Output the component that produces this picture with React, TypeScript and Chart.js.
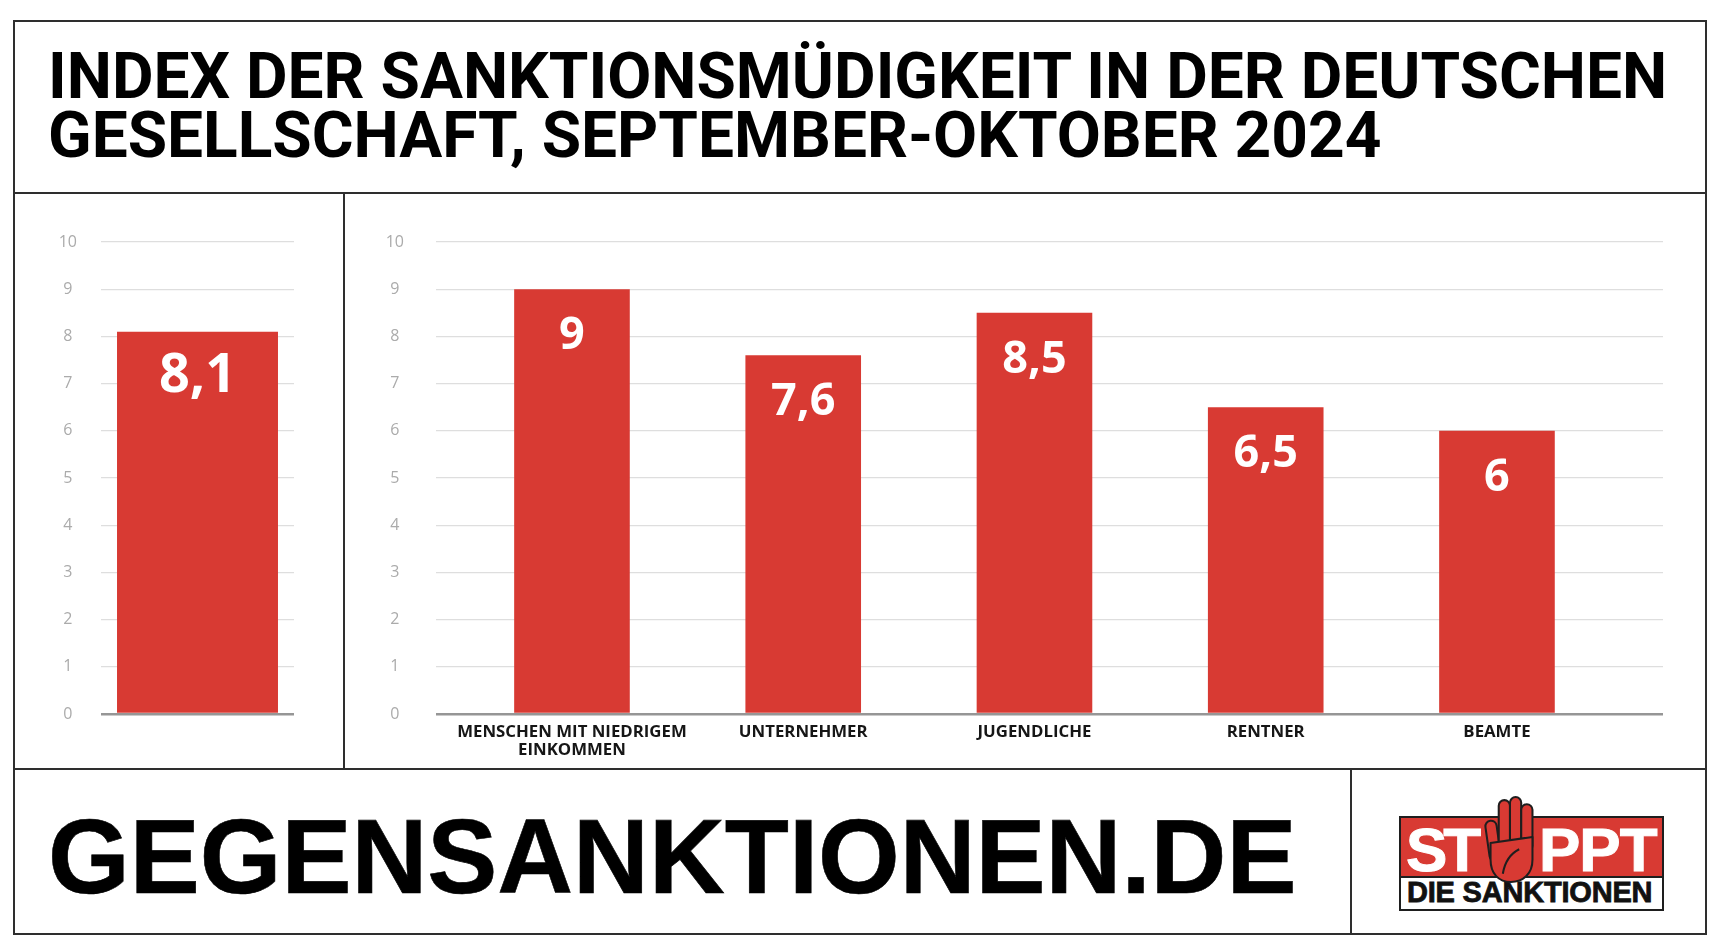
import React, { useEffect, useRef } from "react";
import { Chart, registerables } from "chart.js";

Chart.register(...registerables);

// ---------- data ----------
const TITLE_LINES = [
  "INDEX DER SANKTIONSMÜDIGKEIT IN DER DEUTSCHEN",
  "GESELLSCHAFT, SEPTEMBER-OKTOBER 2024",
];
const OVERALL_LABELS = [""];
const OVERALL_VALUES = [8.1];
const GROUP_LABELS: (string | string[])[] = [
  ["MENSCHEN MIT NIEDRIGEM", "EINKOMMEN"],
  "UNTERNEHMER",
  "JUGENDLICHE",
  "RENTNER",
  "BEAMTE",
];
const GROUP_VALUES = [9, 7.6, 8.5, 6.5, 6];
const Y_MIN = 0;
const Y_MAX = 10;
const Y_STEP = 1;
const FOOTER_TEXT = "GEGENSANKTIONEN.DE";
const LOGO_TOP_LEFT = "ST";
const LOGO_TOP_RIGHT = "PPT";
const LOGO_BOTTOM = "DIE SANKTIONEN";

// ---------- style ----------
const RED = "#d83a33";
const LINE = "#2e2e2e";

const fmt = (v: number) => String(v).replace(".", ",");

const valueLabelPlugin = {
  id: "valueLabels",
  afterDatasetsDraw(chart: any, _args: any, opts: any) {
    const ctx = chart.ctx;
    chart.data.datasets.forEach((ds: any, di: number) => {
      const meta = chart.getDatasetMeta(di);
      meta.data.forEach((el: any, i: number) => {
        const raw = ds.data[i];
        const v = typeof raw === "number" ? raw : raw.y;
        ctx.save();
        ctx.fillStyle = "#ffffff";
        ctx.font = `700 ${opts.size}px "Open Sans", sans-serif`;
        ctx.textAlign = "center";
        ctx.textBaseline = "alphabetic";
        ctx.fillText(fmt(v), el.x, el.y + opts.offset);
        ctx.restore();
      });
    });
  },
};

const yScale = (width: number, padding: number) => ({
  min: Y_MIN,
  max: Y_MAX,
  afterFit: (s: any) => {
    s.width = width;
  },
  afterBuildTicks: (s: any) => {
    const t = [];
    for (let v = Y_MIN; v <= Y_MAX; v += Y_STEP) t.push({ value: v });
    s.ticks = t;
  },
  ticks: {
    crossAlign: "center",
    padding,
    color: "#ababab",
    font: { family: "'Open Sans', sans-serif", size: 16 },
  },
  grid: {
    drawTicks: false,
    color: (c: any) => (c.tick && c.tick.value === 0 ? "#969696" : "#dedede"),
    lineWidth: (c: any) => (c.tick && c.tick.value === 0 ? 2.5 : 1.2),
  },
  border: { display: false },
});

function OverallChart() {
  const ref = useRef<HTMLCanvasElement>(null);
  useEffect(() => {
    const chart = new Chart(ref.current!, {
      type: "bar",
      data: {
        labels: OVERALL_LABELS,
        datasets: [
          {
            data: OVERALL_VALUES,
            backgroundColor: RED,
            barPercentage: 0.834,
            categoryPercentage: 1,
          },
        ],
      },
      options: {
        animation: false,
        responsive: false,
        maintainAspectRatio: false,
        layout: { padding: { top: 48, bottom: 54, left: 0, right: 49 } },
        plugins: {
          legend: { display: false },
          tooltip: { enabled: false },
          valueLabels: { size: 54, offset: 60 },
        } as any,
        scales: {
          x: { display: false },
          y: yScale(87, 24) as any,
        },
      },
      plugins: [valueLabelPlugin as any],
    });
    return () => chart.destroy();
  }, []);
  return (
    <canvas
      ref={ref}
      width={329}
      height={574}
      style={{ position: "absolute", left: 14, top: 194, width: 329, height: 574 }}
    />
  );
}

function GroupChart() {
  const ref = useRef<HTMLCanvasElement>(null);
  useEffect(() => {
    const chart = new Chart(ref.current!, {
      type: "bar",
      data: {
        datasets: [
          {
            data: GROUP_VALUES.map((v, i) => ({ x: i, y: v })),
            backgroundColor: RED,
            barPercentage: 0.5,
            categoryPercentage: 1,
          },
        ],
      },
      options: {
        animation: false,
        responsive: false,
        maintainAspectRatio: false,
        layout: { padding: { top: 48, bottom: 0, left: 0, right: 43 } },
        plugins: {
          legend: { display: false },
          tooltip: { enabled: false },
          valueLabels: { size: 45, offset: 60 },
        } as any,
        scales: {
          x: {
            type: "linear",
            offset: false,
            min: -0.588,
            max: 4.718,
            afterBuildTicks: (s: any) => {
              s.ticks = GROUP_LABELS.map((_, i) => ({ value: i }));
            },
            afterFit: (s: any) => {
              s.height = 54;
            },
            ticks: {
              autoSkip: false,
              maxRotation: 0,
              minRotation: 0,
              padding: 9,
              color: "#161616",
              font: { family: "'Open Sans', sans-serif", weight: "bold", size: 16.8, lineHeight: 1.1 },
              callback: (v: any) => GROUP_LABELS[Math.round(v)] ?? "",
            },
            grid: { display: false, drawTicks: false },
            border: { display: false },
          } as any,
          y: yScale(91, 32) as any,
        },
      },
      plugins: [valueLabelPlugin as any],
    });
    return () => chart.destroy();
  }, []);
  return (
    <canvas
      ref={ref}
      width={1361}
      height={574}
      style={{ position: "absolute", left: 345, top: 194, width: 1361, height: 574 }}
    />
  );
}

function Hand() {
  return (
    <svg
      width={58}
      height={90}
      viewBox="0 0 56 88"
      style={{ position: "absolute", left: 1482, top: 794 }}
    >
      <g fill={RED} stroke="#1e1e1e" strokeWidth={2} strokeLinejoin="round">
        <rect x={5} y={26} width={11} height={40} rx={5.5} transform="rotate(-8 10 46)" />
        <rect x={16} y={6} width={11} height={50} rx={5.5} />
        <rect x={27} y={3} width={11} height={50} rx={5.5} />
        <rect x={38} y={10} width={11} height={46} rx={5.5} />
        <path d="M8 48 L49 42 L49 64 C49 78 40 86 28 86 C16 86 8 78 8 64 Z" />
        <path d="M20 78 C22 66 28 58 36 54" fill="none" stroke="#1e1e1e" strokeWidth={2} />
      </g>
    </svg>
  );
}

export default function App() {
  const abs = (s: React.CSSProperties): React.CSSProperties => ({ position: "absolute", ...s });
  return (
    <div style={abs({ left: 0, top: 0, width: 1718, height: 952, background: "#ffffff", overflow: "hidden" })}>
      {/* frame */}
      <div style={abs({ left: 13, top: 20, width: 1694, height: 915, border: `2px solid ${LINE}`, boxSizing: "border-box" })} />
      <div style={abs({ left: 13, top: 192, width: 1694, height: 2, background: LINE })} />
      <div style={abs({ left: 13, top: 768, width: 1694, height: 2, background: LINE })} />
      <div style={abs({ left: 343, top: 193, width: 2, height: 576, background: LINE })} />
      <div style={abs({ left: 1350, top: 769, width: 2, height: 166, background: LINE })} />

      {/* title */}
      <div
        style={abs({
          left: 48,
          top: 47,
          fontFamily: "Roboto, 'Liberation Sans', sans-serif",
          fontWeight: 700,
          fontSize: 64,
          lineHeight: "59px",
          letterSpacing: 0,
          color: "#000",
          whiteSpace: "nowrap",
        })}
      >
        {TITLE_LINES.map((l, i) => (
          <div key={i}>{l}</div>
        ))}
      </div>

      <OverallChart />
      <GroupChart />

      {/* footer */}
      <div
        style={abs({
          left: 48,
          top: 804,
          fontFamily: "'Liberation Sans', Arial, sans-serif",
          fontWeight: 700,
          fontSize: 105,
          lineHeight: "106px",
          color: "#000",
          whiteSpace: "nowrap",
          WebkitTextStroke: "0.6px #000",
        })}
      >
        {FOOTER_TEXT}
      </div>

      {/* logo */}
      <div style={abs({ left: 1399, top: 816, width: 265, height: 95, border: "2px solid #1e1e1e", boxSizing: "border-box", background: "#fff" })}>
        <div style={abs({ left: 0, top: 0, width: 261, height: 58, background: RED, borderBottom: "2px solid #1e1e1e" })} />
        <div
          style={abs({
            left: 5,
            top: 1,
            fontFamily: "'Liberation Sans', Arial, sans-serif",
            fontWeight: 700,
            fontSize: 62,
            lineHeight: "62px",
            color: "#fff",
            letterSpacing: -4,
            WebkitTextStroke: "1px #fff",
          })}
        >
          {LOGO_TOP_LEFT}
        </div>
        <div
          style={abs({
            left: 138,
            top: 1,
            fontFamily: "'Liberation Sans', Arial, sans-serif",
            fontWeight: 700,
            fontSize: 62,
            lineHeight: "62px",
            color: "#fff",
            letterSpacing: -1,
            WebkitTextStroke: "1px #fff",
          })}
        >
          {LOGO_TOP_RIGHT}
        </div>
        <div
          style={abs({
            left: 6,
            top: 59,
            fontFamily: "'Liberation Sans', Arial, sans-serif",
            fontWeight: 700,
            fontSize: 29,
            lineHeight: "31px",
            color: "#111",
            letterSpacing: -0.2,
            whiteSpace: "nowrap",
            WebkitTextStroke: "0.8px #111",
          })}
        >
          {LOGO_BOTTOM}
        </div>
      </div>
      <Hand />
    </div>
  );
}
